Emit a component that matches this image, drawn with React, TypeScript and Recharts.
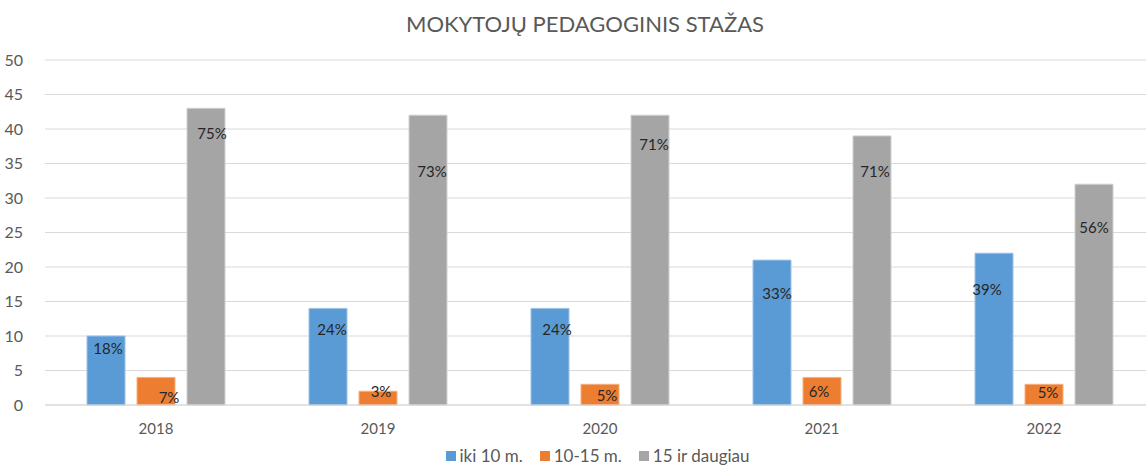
import { BarChart, Bar, XAxis, YAxis, CartesianGrid, Legend, LabelList } from "recharts";

const years = ["2018", "2019", "2020", "2021", "2022"];
const iki10 = [10, 14, 14, 21, 22];
const nuo10iki15 = [4, 2, 3, 4, 3];
const virs15 = [43, 42, 42, 39, 32];
const iki10Pct = ["18%", "24%", "24%", "33%", "39%"];
const nuo10iki15Pct = ["7%", "3%", "5%", "6%", "5%"];
const virs15Pct = ["75%", "73%", "71%", "71%", "56%"];
const yTicks = [0, 5, 10, 15, 20, 25, 30, 35, 40, 45, 50];
const seriesNames = ["iki 10 m.", "10-15 m.", "15 ir daugiau"];
const seriesColors = ["#5B9BD5", "#ED7D31", "#A5A5A5"];

// label nudges (px) from bar top/center, Excel labels were dragged by hand
const nudgeBlue = [[2, 12], [4, 21], [7, 21], [5, 33], [-7, 36]];
const nudgeOrange = [[13, 20], [3, 0], [7, 11], [-3, 14], [4, 8]];
const nudgeGray = [[6, 25], [4, 56], [4, 29], [3, 35], [0, 43]];

const data = years.map((year, i) => ({
  year,
  iki10: iki10[i],
  nuo10iki15: nuo10iki15[i],
  virs15: virs15[i],
}));

const FONT = "Lato, 'Open Sans', sans-serif";

const makeLabel = (texts: string[], nudges: number[][]) => (props: any) => {
  const { x, y, width, index } = props;
  const [dx, dy] = nudges[index];
  return (
    <text
      x={x + width / 2 + dx}
      y={y + dy}
      textAnchor="middle"
      dominantBaseline="central"
      fill="#262626"
      fontSize={15}
      fontFamily={FONT}
    >
      {texts[index]}
    </text>
  );
};

// recharts 3 sorts legend items by name, so draw them in series order ourselves
const LegendBox = () => (
  <div style={{ display: "flex", justifyContent: "center", gap: 17, fontSize: 17, color: "#595959" }}>
    {seriesNames.map((name, i) => (
      <span key={name} style={{ display: "flex", alignItems: "center" }}>
        <span style={{ width: 10, height: 10, background: seriesColors[i], marginRight: 4, display: "inline-block" }} />
        {name}
      </span>
    ))}
  </div>
);

export default function App() {
  return (
    <div
      style={{
        position: "absolute",
        left: 0,
        top: 0,
        width: 1146,
        height: 466,
        overflow: "hidden",
        background: "#fff",
        fontFamily: FONT,
      }}
    >
      <div
        style={{
          position: "absolute",
          left: 0,
          top: 10,
          width: 1170,
          textAlign: "center",
          fontSize: 22,
          color: "#595959",
        }}
      >
        MOKYTOJŲ PEDAGOGINIS STAŽAS
      </div>
      <BarChart
        width={1155}
        height={480}
        data={data}
        margin={{ top: 60, right: 0, bottom: 45, left: 0 }}
        barSize={38}
        barGap={12}
      >
        <CartesianGrid vertical={false} stroke="#d9d9d9" />
        <XAxis
          dataKey="year"
          axisLine={{ stroke: "#d9d9d9" }}
          tickLine={false}
          tick={{ fill: "#595959", fontSize: 15, fontFamily: FONT }}
          tickMargin={12}
          height={30}
        />
        <YAxis
          width={45}
          domain={[0, 50]}
          ticks={yTicks}
          axisLine={false}
          tickLine={false}
          tick={{ fill: "#595959", fontSize: 16, fontFamily: FONT }}
          tickMargin={16}
        />
        <Legend
          layout="horizontal"
          verticalAlign="middle"
          align="center"
          wrapperStyle={{ top: 445, left: 20 }}
          content={<LegendBox />}
        />
        <Bar dataKey="iki10" name={seriesNames[0]} fill={seriesColors[0]} stroke="#9DC3E6" strokeWidth={1} isAnimationActive={false}>
          <LabelList dataKey="iki10" content={makeLabel(iki10Pct, nudgeBlue)} />
        </Bar>
        <Bar dataKey="nuo10iki15" name={seriesNames[1]} fill={seriesColors[1]} stroke="#F4B183" strokeWidth={1} isAnimationActive={false}>
          <LabelList dataKey="nuo10iki15" content={makeLabel(nuo10iki15Pct, nudgeOrange)} />
        </Bar>
        <Bar dataKey="virs15" name={seriesNames[2]} fill={seriesColors[2]} stroke="#D0D0D0" strokeWidth={1} isAnimationActive={false}>
          <LabelList dataKey="virs15" content={makeLabel(virs15Pct, nudgeGray)} />
        </Bar>
      </BarChart>
    </div>
  );
}
